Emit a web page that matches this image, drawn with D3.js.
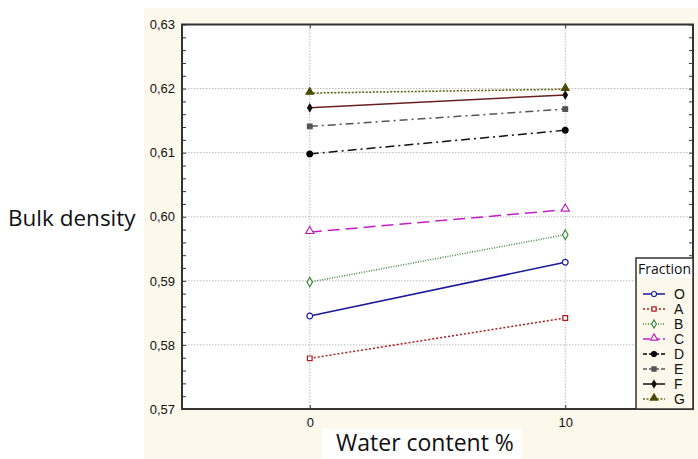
<!DOCTYPE html>
<html>
<head>
<meta charset="utf-8">
<script src="https://cdn.jsdelivr.net/npm/d3@7"></script>
<style>
  body { margin: 0; background: #fff; }
  svg { display: block; font-family: "Liberation Sans", Arial, sans-serif; }
</style>
</head>
<body>
<div class="container"></div>
<script>
// data
var waterContent = [0, 10];
var fractions = ['O', 'A', 'B', 'C', 'D', 'E', 'F', 'G'];
var valuesO = [0.5845, 0.5929];
var valuesA = [0.5779, 0.5842];
var valuesB = [0.5898, 0.5972];
var valuesC = [0.5976, 0.6011];
var valuesD = [0.6098, 0.6135];
var valuesE = [0.6141, 0.6168];
var valuesF = [0.6170, 0.6190];
var valuesG = [0.6193, 0.6199];
var yTicks = [0.57, 0.58, 0.59, 0.60, 0.61, 0.62, 0.63];
var xTicks = [0, 10];

var seriesValues = [valuesO, valuesA, valuesB, valuesC, valuesD, valuesE, valuesF, valuesG];

// styles per series
var styles = {
  O: { stroke: '#1a1a9a', dash: null,        marker: 'circle',   fill: '#fff', mstroke: '#1a1a9a', lstroke: '#1a1a9a' },
  A: { stroke: '#b01c1c', dash: '2,2',       marker: 'square',   fill: '#fff', mstroke: '#b01c1c', lstroke: '#b01c1c' },
  B: { stroke: '#3c8c3c', dash: '1,1.5',     marker: 'diamond',  fill: '#fff', mstroke: '#3c8c3c', lstroke: '#3c8c3c' },
  C: { stroke: '#c21fc2', dash: '12,6',      marker: 'triangle', fill: '#fff', mstroke: '#c21fc2', lstroke: '#c21fc2' },
  D: { stroke: '#111',    dash: '9,4,2,4',   marker: 'circle',   fill: '#000', mstroke: '#000',    lstroke: '#000' },
  E: { stroke: '#555',    dash: '8,4,2,4',   marker: 'square',   fill: '#555', mstroke: '#555',    lstroke: '#555' },
  F: { stroke: '#6a2020', dash: null,        marker: 'diamond',  fill: '#111', mstroke: '#111',    lstroke: '#111' },
  G: { stroke: '#5c5c10', dash: '2,1.5',     marker: 'triangle', fill: '#4a4a00', mstroke: '#4a4a00', lstroke: '#6b6b20' }
};

var width = 698, height = 459;
var margin = { left: 182, right: 5, top: 24.5, bottom: 50 };

var svg = d3.select('.container').append('svg')
  .attr('width', width).attr('height', height);

// cream panel background + white label boxes
svg.append('rect').attr('x', 144).attr('y', 8).attr('width', width - 144).attr('height', height - 8)
  .attr('fill', '#fdf8ec');
svg.append('rect').attr('x', 322).attr('y', 429).attr('width', 200).attr('height', 30).attr('fill', '#fff');

var x = d3.scaleLinear().domain([-5, 15]).range([margin.left, width - margin.right]);
var y = d3.scaleLinear().domain([0.57, 0.63]).range([height - margin.bottom, margin.top]);

var fmt = function (d) { return d3.format('.2f')(d).replace('.', ','); };

// plot area
svg.append('rect')
  .attr('x', x(-5)).attr('y', y(0.63))
  .attr('width', x(15) - x(-5)).attr('height', y(0.57) - y(0.63))
  .attr('fill', '#fff');

// grid
svg.append('g').selectAll('line').data(yTicks.slice(1, -1)).enter().append('line')
  .attr('x1', x(-5)).attr('x2', x(15))
  .attr('y1', function (d) { return y(d); }).attr('y2', function (d) { return y(d); })
  .attr('stroke', '#b8b8b8').attr('stroke-width', 1).attr('stroke-dasharray', '1.5,1.5');
svg.append('g').selectAll('line').data(xTicks).enter().append('line')
  .attr('y1', y(0.57)).attr('y2', y(0.63))
  .attr('x1', function (d) { return x(d); }).attr('x2', function (d) { return x(d); })
  .attr('stroke', '#b8b8b8').attr('stroke-width', 1).attr('stroke-dasharray', '1.5,1.5');

// axes (ticks pointing inward)
var minor = d3.range(0.57, 0.6301, 0.002);
var yLeft = svg.append('g').attr('transform', 'translate(' + x(-5) + ',0)')
  .call(d3.axisRight(y).tickValues(minor).tickSize(4).tickFormat(''));
var yRight = svg.append('g').attr('transform', 'translate(' + x(15) + ',0)')
  .call(d3.axisLeft(y).tickValues(minor).tickSize(4).tickFormat(''));
var yLabels = svg.append('g').attr('transform', 'translate(' + x(-5) + ',0)')
  .call(d3.axisLeft(y).tickValues(yTicks).tickSize(0).tickPadding(7).tickFormat(fmt));
var xBottom = svg.append('g').attr('transform', 'translate(0,' + y(0.57) + ')')
  .call(d3.axisTop(x).tickValues(xTicks).tickSize(4).tickFormat(''));
var xTop = svg.append('g').attr('transform', 'translate(0,' + y(0.63) + ')')
  .call(d3.axisBottom(x).tickValues(xTicks).tickSize(4).tickFormat(''));
var xLabels = svg.append('g').attr('transform', 'translate(0,' + y(0.57) + ')')
  .call(d3.axisBottom(x).tickValues(xTicks).tickSize(0).tickPadding(9));

[yLeft, yRight, xBottom, xTop, yLabels, xLabels].forEach(function (g) {
  g.select('.domain').remove();
  g.selectAll('line').attr('stroke', '#333');
  g.selectAll('text').attr('fill', '#111').style('font-size', '13px')
    .style('font-family', '"Liberation Sans", Arial, sans-serif');
});

// frame
svg.append('rect')
  .attr('x', x(-5)).attr('y', y(0.63))
  .attr('width', x(15) - x(-5)).attr('height', y(0.57) - y(0.63))
  .attr('fill', 'none').attr('stroke', '#333').attr('stroke-width', 2);

// markers
function drawMarker(g, type, cx, cy, s, st) {
  var sym;
  if (type === 'circle') sym = d3.symbolCircle;
  else if (type === 'square') sym = d3.symbolSquare;
  else if (type === 'diamond') sym = d3.symbolDiamond;
  else sym = d3.symbolTriangle;
  var size = s * (type === 'triangle' ? 1.1 : type === 'square' ? 0.85 : 1);
  g.append('path')
    .attr('d', d3.symbol().type(sym).size(size))
    .attr('transform', 'translate(' + cx + ',' + (type === 'triangle' ? cy - 1 : cy) + ')')
    .attr('fill', st.fill).attr('stroke', st.mstroke).attr('stroke-width', 1.2);
}

var line = d3.line()
  .x(function (d, i) { return x(waterContent[i]); })
  .y(function (d) { return y(d); });

var plot = svg.append('g');
fractions.forEach(function (f, k) {
  var st = styles[f];
  plot.append('path')
    .datum(seriesValues[k])
    .attr('d', line)
    .attr('fill', 'none')
    .attr('stroke', st.stroke)
    .attr('stroke-width', 1.5)
    .attr('stroke-dasharray', st.dash);
});
fractions.forEach(function (f, k) {
  var st = styles[f];
  seriesValues[k].forEach(function (v, i) {
    drawMarker(plot, st.marker, x(waterContent[i]), y(v), f === 'F' ? 16 : f === 'G' ? 22 : 26, st);
  });
});

// legend
var lg = svg.append('g').attr('transform', 'translate(636,258)');
lg.append('rect').attr('width', 57).attr('height', y(0.57) - 258).attr('fill', '#fdf8ec');
lg.append('rect').attr('width', 57).attr('height', 20).attr('fill', '#fff');
lg.append('rect').attr('width', 57).attr('height', y(0.57) - 258)
  .attr('fill', 'none').attr('stroke', '#333').attr('stroke-width', 1.5);
lg.append('text').attr('x', 2).attr('y', 16).text('Fraction')
  .style('font-family', '"Open Sans", Lato, sans-serif').style('font-size', '14px').attr('fill', '#111');

fractions.forEach(function (f, k) {
  var st = styles[f];
  var ly = 36 + k * 15;
  lg.append('line').attr('x1', 7).attr('x2', 29).attr('y1', ly).attr('y2', ly)
    .attr('stroke', st.lstroke).attr('stroke-width', 1.5)
    .attr('stroke-dasharray', st.dash ? (f === 'C' ? '7,3' : f === 'D' || f === 'E' ? '4,2' : st.dash) : null);
  drawMarker(lg, st.marker, 18, ly, f === 'F' ? 14 : 20, st);
  lg.append('text').attr('x', 38).attr('y', ly + 5).text(f)
    .style('font-size', '14px').attr('fill', '#111');
});

// axis titles
svg.append('text').attr('x', 8).attr('y', 226).text('Bulk density')
  .style('font-family', '"Open Sans", Lato, sans-serif').style('font-size', '22.5px').attr('fill', '#111');
svg.append('text').attr('x', 336).attr('y', 451).text('Water content %')
  .style('font-family', '"Open Sans", Lato, sans-serif').style('font-size', '23px').attr('fill', '#111');
</script>
</body>
</html>
